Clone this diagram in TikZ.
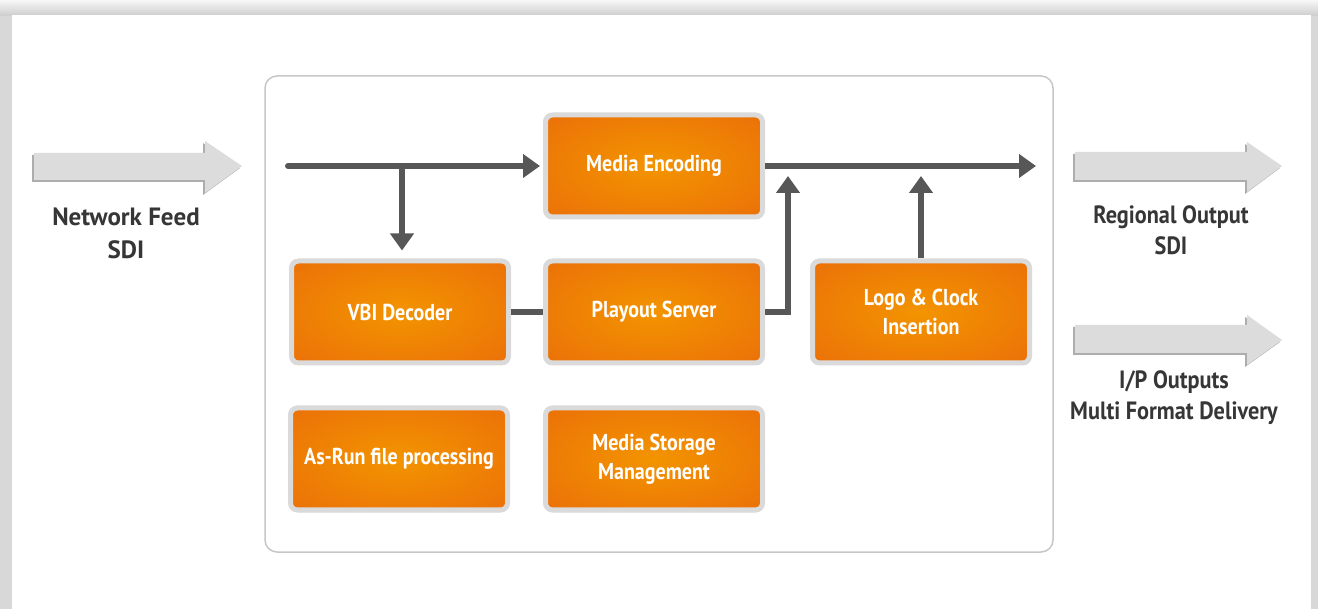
\documentclass[tikz,border=0pt]{standalone}
\usepackage{fontspec}
\setmainfont{PT Sans}
\newfontfamily\ptn[FakeStretch=0.87]{PT Sans}
\newfontfamily\ptl[FakeStretch=0.89]{PT Sans}
\newfontfamily\ptw{PT Sans}
\usetikzlibrary{arrows.meta,shadows}
\definecolor{lineg}{HTML}{575757}
\definecolor{oc}{HTML}{F39400}
\definecolor{oe}{HTML}{E8640B}
\definecolor{rim}{HTML}{DADADA}
\definecolor{txtg}{HTML}{363636}
\definecolor{barr}{HTML}{DCDCDC}
\definecolor{frameg}{HTML}{D8D8D8}
\pgfdeclareradialshading{boxglow}{\pgfpoint{0bp}{0bp}}{color(0bp)=(oc); color(48bp)=(oe); color(75bp)=(oe)}
\tikzset{
  procbox/.style={rounded corners=7pt, minimum width=217pt, minimum height=102pt,
    draw=rim, line width=5pt, shading=boxglow, text=white, align=center,
    font=\ptn\bfseries\fontsize{23}{29}\selectfont,
    drop shadow={opacity=0.35, shadow xshift=1pt, shadow yshift=-2pt}},
  conn/.style={draw=lineg, line width=6pt, -{Triangle[length=17pt,width=23pt]}},
  plain/.style={draw=lineg, line width=6pt},
  lbl/.style={text=txtg, align=center, font=\ptl\bfseries\fontsize{25}{31}\selectfont},
  lblw/.style={text=txtg, align=center, font=\ptw\bfseries\fontsize{25}{33}\selectfont},
  barrow/.style={fill=barr},
  barrowsh/.style={fill=black!32},
}
\begin{document}
\begin{tikzpicture}[x=1pt,y=-1pt]
\useasboundingbox (0,0) rectangle (1318,609);
% page frame
\fill[frameg] (0,0) rectangle (1318,609);
\shade[top color=white!97!black, bottom color=black!20] (0,0) rectangle (1318,16);
\fill[white] (12,15) rectangle (1311,609);
% panel
\draw[draw=black!22, line width=1.5pt, rounded corners=12pt] (265,76) rectangle (1053,552);
% block arrows
\fill[barrowsh] (32,155) -- (203,155) -- (203,143) -- (240,168) -- (203,195) -- (203,182) -- (32,182) -- cycle;
\fill[barrow] (34,153) -- (205,153) -- (205,141) -- (242,166) -- (205,193) -- (205,180) -- (34,180) -- cycle;
\fill[barrowsh] (1073,154) -- (1245,154) -- (1245,144) -- (1280,168) -- (1245,194) -- (1245,182) -- (1073,182) -- cycle;
\fill[barrow] (1075,152) -- (1247,152) -- (1247,142) -- (1282,166) -- (1247,192) -- (1247,180) -- (1075,180) -- cycle;
\fill[barrowsh] (1073,327) -- (1245,327) -- (1245,317) -- (1280,342) -- (1245,367) -- (1245,355) -- (1073,355) -- cycle;
\fill[barrow] (1075,325) -- (1247,325) -- (1247,315) -- (1282,340) -- (1247,365) -- (1247,353) -- (1075,353) -- cycle;
% labels
\node[lblw] (nf) at (126,233) {Network Feed\\SDI};
\node[lbl] (ro) at (1171,230) {Regional Output\\SDI};
\node[lbl] (ip) at (1174,398) {I/P Outputs\\Multi Format Delivery};
% boxes
\node[procbox] (enc) at (654,166) {Media Encoding};
\node[procbox] (vbi) at (400,312) {VBI Decoder};
\node[procbox] (play) at (654,312) {Playout Server};
\node[procbox] (logo) at (921,312) {Logo \& Clock\\Insertion};
\node[procbox] (asrun) at (399,459) {As-Run file processing};
\node[procbox] (mstor) at (654,459) {Media Storage\\Management};
% coordinates
\coordinate (inL) at (288,166);
\coordinate (br) at (402,166);
\coordinate (outR) at (1036,166);
\coordinate (j1) at (788,176);
\coordinate (j2) at (921,176);
% connectors
\draw[conn, line cap=round] (inL) -- ([xshift=-3pt]enc.west);
\draw[conn] (br) -- ([yshift=8pt]br |- vbi.north);
\draw[conn] (enc.east) -- (outR);
\draw[conn] (play.east) -| (j1);
\draw[conn] (logo.north) -- (j2);
\draw[plain] (vbi.east) -- (play.west);
\end{tikzpicture}
\end{document}
